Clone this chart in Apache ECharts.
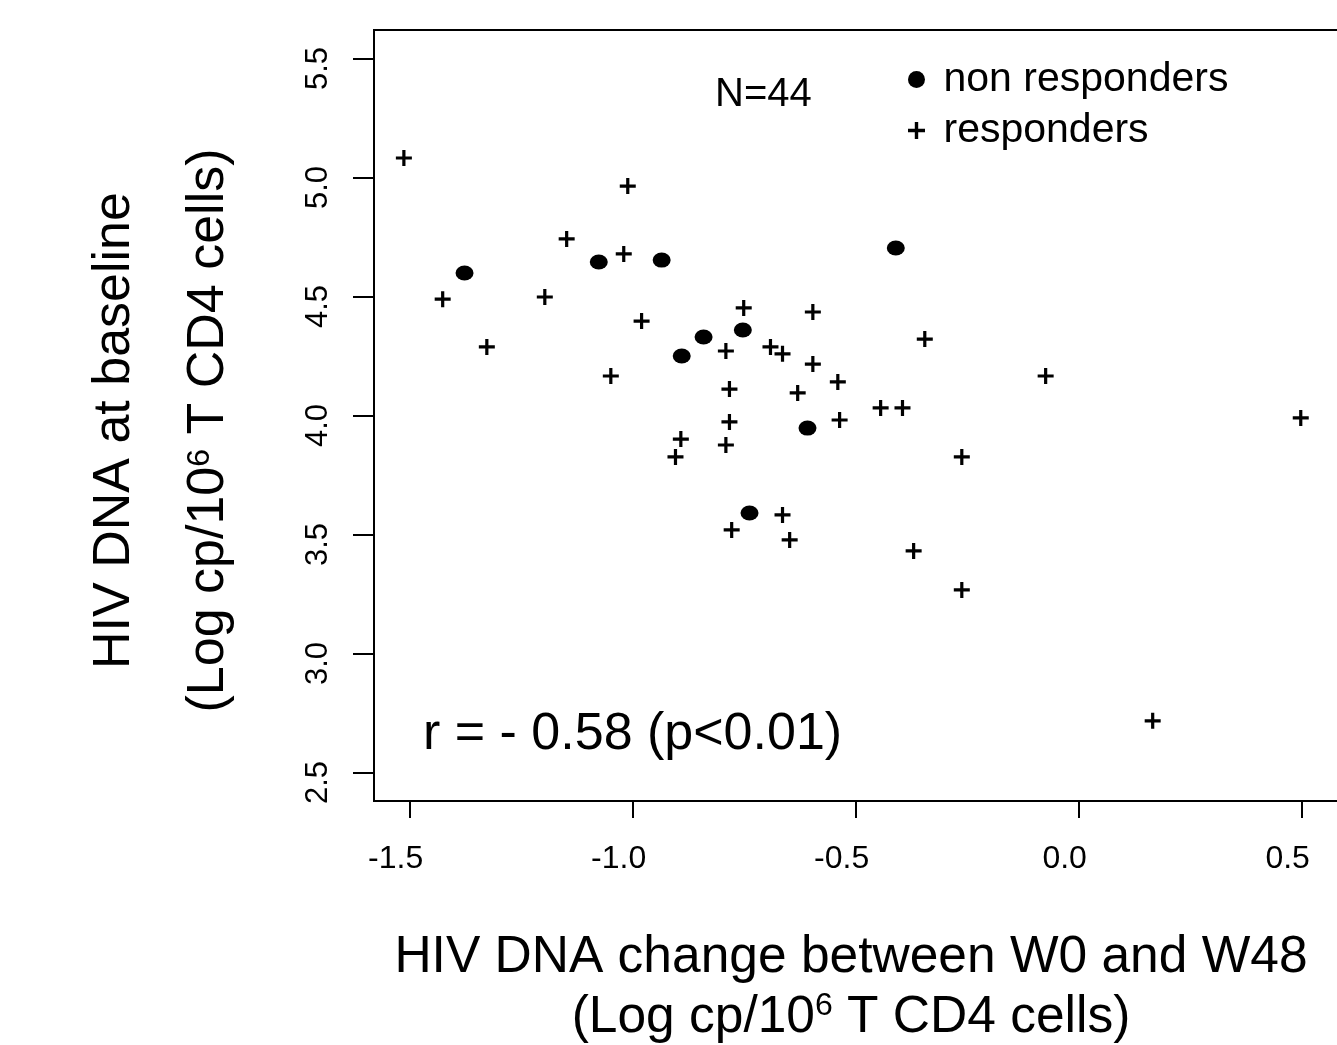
<!DOCTYPE html>
<html><head><meta charset="utf-8">
<script src="https://cdn.jsdelivr.net/npm/echarts@6/dist/echarts.min.js"></script>
<style>html,body{margin:0;padding:0;background:#fff}#chart{width:1337px;height:1045px}</style>
</head><body><div id="chart"></div>
<script>
// Responders (+)
const respondersX = [-1.513,-1.011,-1.148,-1.020,-1.426,-1.197,-1.327,-0.980,-0.751,-0.596,-0.791,-0.691,-0.664,-0.596,-0.345,-1.049,-0.783,-0.540,-0.630,-0.074,0.498,-0.444,-0.395,-0.536,-0.783,-0.892,-0.791,-0.904,-0.262,-0.664,-0.778,-0.648,-0.370,-0.262,0.166];
const respondersY = [5.082,4.964,4.742,4.679,4.489,4.498,4.288,4.397,4.452,4.435,4.271,4.288,4.259,4.216,4.321,4.166,4.111,4.141,4.095,4.166,3.990,4.032,4.032,3.981,3.973,3.901,3.876,3.826,3.826,3.582,3.519,3.477,3.431,3.267,2.717];
// Non responders (filled dots)
const nonRespondersX = [-1.377,-1.076,-0.935,-0.410,-0.841,-0.753,-0.890,-0.608,-0.738];
const nonRespondersY = [4.599,4.645,4.653,4.704,4.330,4.359,4.250,3.947,3.590];

const xTicks = [-1.5,-1.0,-0.5,0.0,0.5];
const yTicks = [2.5,3.0,3.5,4.0,4.5,5.0,5.5];
const seriesNames = ['non responders','responders'];
const annotationN = 'N=44';
const annotationR = 'r = - 0.58 (p<0.01)';

const zip = (xs, ys) => xs.map((x, i) => [x, ys[i]]);
const plusPath = 'path://M6.4,0 H9.6 V6.4 H16 V9.6 H9.6 V16 H6.4 V9.6 H0 V6.4 H6.4 Z';
const FONT = '"Liberation Sans", Arial, Helvetica, sans-serif';

const chart = echarts.init(document.getElementById('chart'), null, {renderer: 'canvas'});
chart.setOption({
  animation: false,
  backgroundColor: '#ffffff',
  textStyle: {fontFamily: FONT, color: '#000'},
  grid: {left: 374, top: 30, width: 966, height: 771, outerBoundsMode: 'none', containLabel: false,
         show: true, borderColor: '#000', borderWidth: 2, backgroundColor: 'transparent'},
  xAxis: {
    type: 'value', min: -1.58, max: 0.586,
    splitLine: {show: false},
    axisLine: {show: true, onZero: false, lineStyle: {color: '#000', width: 2}},
    axisTick: {show: true, length: 17, lineStyle: {color: '#000', width: 2}, customValues: xTicks},
    axisLabel: {show: true, customValues: xTicks, formatter: v => v.toFixed(1), fontSize: 32, fontFamily: FONT, color: '#000', margin: 42, padding: [0, 28, 0, 0]},
    name: '{a|HIV DNA change between W0 and W48}\n{a|(Log cp/10}{s|6}{a| T CD4 cells)}',
    nameLocation: 'middle', nameGap: 127,
    nameTextStyle: {fontFamily: FONT, color: '#000', fontSize: 51.5, lineHeight: 60, padding: [0, 12, 0, 0],
      rich: {a: {fontSize: 51.5, lineHeight: 60, fontFamily: FONT, color: '#000'},
             s: {fontSize: 32, lineHeight: 60, verticalAlign: 'top', fontFamily: FONT, color: '#000', padding: [2,0,0,0]}}}
  },
  yAxis: {
    type: 'value', min: 2.38, max: 5.62,
    splitLine: {show: false},
    axisLine: {show: true, onZero: false, lineStyle: {color: '#000', width: 2}},
    axisTick: {show: true, length: 21, lineStyle: {color: '#000', width: 2}, customValues: yTicks},
    axisLabel: {show: true, customValues: yTicks, formatter: v => v.toFixed(1), fontSize: 31, fontFamily: FONT, color: '#000', rotate: 90, margin: 40, padding: [0, 20, 0, 0]},
    name: '{a|HIV DNA at baseline}\n{a|(Log cp/10}{s|6}{a| T CD4 cells)}',
    nameLocation: 'middle', nameGap: 118, nameRotate: 90,
    nameTextStyle: {fontFamily: FONT, color: '#000', fontSize: 52, lineHeight: 94, padding: [0, 30, 0, 0],
      rich: {a: {fontSize: 52, lineHeight: 94, fontFamily: FONT, color: '#000'},
             s: {fontSize: 32, lineHeight: 94, verticalAlign: 'top', fontFamily: FONT, color: '#000', padding: [22,0,0,0]}}}
  },
  legend: {
    orient: 'vertical', left: 903, top: 54, itemGap: 10, itemWidth: 30, itemHeight: 17,
    textStyle: {fontSize: 41, lineHeight: 41, fontFamily: FONT, color: '#000', padding: [0,0,0,7]},
    data: [{name: seriesNames[0], icon: 'circle', itemStyle: {color: '#000'}},
           {name: seriesNames[1], icon: plusPath, itemStyle: {color: '#000'}}]
  },
  graphic: [
    {type: 'text', left: 715, top: 75, style: {text: annotationN, font: '40px ' + FONT, fill: '#000'}},
    {type: 'text', left: 423, top: 709, style: {text: annotationR, font: '52px ' + FONT, fill: '#000'}}
  ],
  series: [
    {name: seriesNames[0], type: 'scatter', data: zip(nonRespondersX, nonRespondersY), symbol: 'circle', symbolSize: [18, 15], itemStyle: {color: '#000', opacity: 1}, z: 3},
    {name: seriesNames[1], type: 'scatter', data: zip(respondersX, respondersY), symbol: plusPath, symbolSize: 16, itemStyle: {color: '#000', opacity: 1}, z: 3}
  ]
});
</script></body></html>
